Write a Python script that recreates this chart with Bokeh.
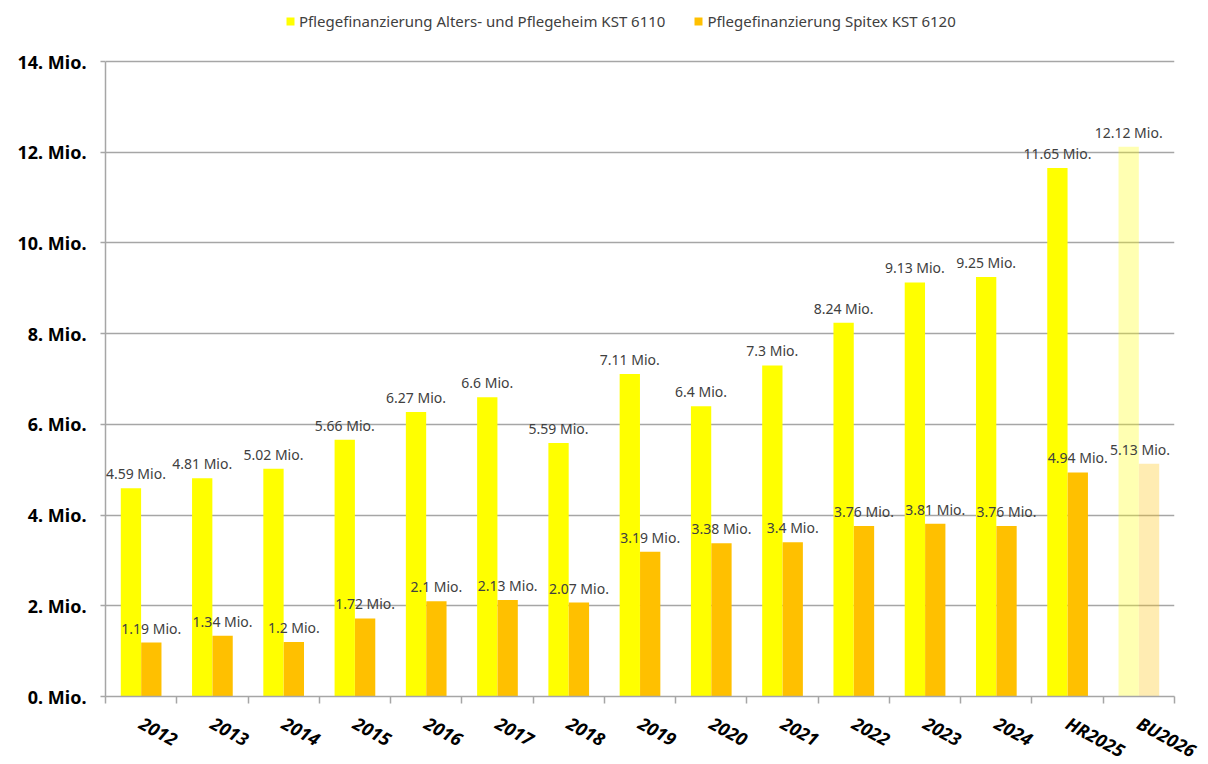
from bokeh.plotting import figure
from bokeh.models import (ColumnDataSource, FactorRange, Range1d, Legend, LegendItem,
                          LinearAxis, CategoricalAxis, FixedTicker, LabelSet)
from bokeh.transform import dodge
from bokeh.core.properties import value
from bokeh.embed import file_html
from bokeh.resources import INLINE

# ---- data ----
categories = ["2012", "2013", "2014", "2015", "2016", "2017", "2018", "2019",
              "2020", "2021", "2022", "2023", "2024", "HR2025", "BU2026"]
heim = [4.59, 4.81, 5.02, 5.66, 6.27, 6.6, 5.59, 7.11, 6.4, 7.3, 8.24, 9.13, 9.25, 11.65, 12.12]
spitex = [1.19, 1.34, 1.2, 1.72, 2.1, 2.13, 2.07, 3.19, 3.38, 3.4, 3.76, 3.81, 3.76, 4.94, 5.13]
series_names = ["Pflegefinanzierung Alters- und Pflegeheim KST 6110",
                "Pflegefinanzierung Spitex KST 6120"]
is_budget = [False] * 14 + [True]
y_ticks = [0, 2, 4, 6, 8, 10, 12, 14]
y_tick_labels = ["0. Mio.", "2. Mio.", "4. Mio.", "6. Mio.", "8. Mio.", "10. Mio.", "12. Mio.", "14. Mio."]

FONT = "Noto Sans"
YELLOW = "#FFFF00"
ORANGE = "#FFC000"
GRID = "#A6A6A6"
TXT = "#404040"

n = len(categories)
src = ColumnDataSource(dict(
    cat=categories,
    heim=heim,
    spitex=spitex,
    alpha=[0.3 if b else 1.0 for b in is_budget],
    heim_label=[f"{v:g} Mio." for v in heim],
    spitex_label=[f"{v:g} Mio." for v in spitex],
    # keep the first / last label inside the plotting frame
    heim_dx=[5] + [0] * (n - 1),
    spitex_dx=[0] * (n - 1) + [-9],
))

# frame extends above 14 Mio. to hold the legend; axis bounded at 14
FRAME_H = 690
Y_TOP = FRAME_H * 14 / 635
p = figure(x_range=FactorRange(*categories), y_range=Range1d(0, Y_TOP),
           frame_width=1069, frame_height=FRAME_H,
           output_backend="svg", toolbar_location=None,
           x_axis_location=None,
           min_border_left=105, min_border_right=26, min_border_top=6, min_border_bottom=60)
p.outline_line_color = None
p.xgrid.visible = False

off = 0.143
bw = 0.285
r1 = p.vbar(x=dodge("cat", -off, range=p.x_range), top="heim", width=bw, source=src,
            fill_color=YELLOW, fill_alpha="alpha", line_color=None)
r2 = p.vbar(x=dodge("cat", off, range=p.x_range), top="spitex", width=bw, source=src,
            fill_color=ORANGE, fill_alpha="alpha", line_color=None)

p.add_layout(LabelSet(x=dodge("cat", -off, range=p.x_range), y="heim", text="heim_label",
                      source=src, text_align="center", text_baseline="bottom", y_offset=5,
                      x_offset="heim_dx",
                      text_font=value(FONT), text_font_size="14px", text_color=TXT))
p.add_layout(LabelSet(x=dodge("cat", off, range=p.x_range), y="spitex", text="spitex_label",
                      source=src, text_align="center", text_baseline="bottom", y_offset=5,
                      x_offset="spitex_dx",
                      text_font=value(FONT), text_font_size="14px", text_color=TXT))

# y axis
p.yaxis.ticker = FixedTicker(ticks=y_ticks)
p.yaxis.bounds = (0, 14)
p.yaxis.major_label_overrides = {t: l for t, l in zip(y_ticks, y_tick_labels)}
p.yaxis.major_label_text_font = FONT
p.yaxis.major_label_text_font_style = "bold"
p.yaxis.major_label_text_font_size = "18px"
p.yaxis.major_label_text_color = "#000000"
p.yaxis.axis_line_color = GRID
p.yaxis.axis_line_width = 1.5
p.yaxis.major_tick_line_color = GRID
p.yaxis.major_tick_line_width = 1.5
p.yaxis.major_tick_in = 0
p.yaxis.major_tick_out = 5
p.yaxis.minor_tick_line_color = None
p.yaxis.major_label_standoff = 14
p.ygrid.ticker = FixedTicker(ticks=y_ticks)
p.ygrid.grid_line_color = GRID
p.ygrid.grid_line_width = 1.5

# x axis: boundary ticks + category labels
tick_axis = LinearAxis(ticker=FixedTicker(ticks=list(range(n + 1))),
                       major_label_overrides={i: "" for i in range(n + 1)},
                       major_label_text_font_size="1px",
                       major_tick_in=0, major_tick_out=7, minor_tick_line_color=None,
                       axis_line_color=GRID, axis_line_width=1.5,
                       major_tick_line_color=GRID, major_tick_line_width=1.5,
                       major_label_standoff=0)
cat_axis = CategoricalAxis(major_tick_line_color=None, axis_line_color=None,
                           major_tick_out=0, major_tick_in=0,
                           major_label_orientation=-0.5,
                           major_label_text_font=FONT,
                           major_label_text_font_style="bold italic",
                           major_label_text_font_size="18px",
                           major_label_text_color="#000000",
                           major_label_standoff=18)
p.add_layout(tick_axis, "below")
p.add_layout(cat_axis, "below")

legend = Legend(items=[LegendItem(label=series_names[0], renderers=[r1], index=0),
                       LegendItem(label=series_names[1], renderers=[r2], index=0)],
                orientation="horizontal", location=(180, 665),
                label_text_font=FONT, label_text_font_size="15px", label_text_color=TXT,
                glyph_width=10, glyph_height=10, label_standoff=4, spacing=28,
                border_line_color=None, background_fill_alpha=0, padding=0, margin=0)
p.add_layout(legend, "center")

open("out.html", "w").write(file_html(p, INLINE))
